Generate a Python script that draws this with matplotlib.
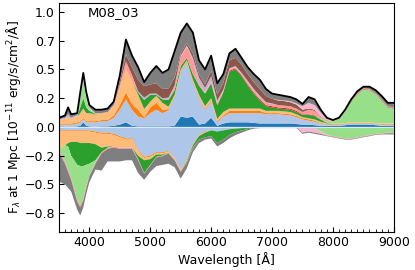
import numpy as np
import matplotlib
matplotlib.use('Agg')
import matplotlib.pyplot as plt
from matplotlib.ticker import MultipleLocator

# wavelength grid [Angstrom]
wl = [3500, 3600, 3650, 3700, 3800, 3850, 3900, 3950, 4000, 4100, 4200, 4300, 4400, 4500,
      4600, 4700, 4800, 4900, 5000, 5100, 5200, 5300, 5400, 5500, 5600, 5700, 5800, 5900,
      6000, 6100, 6200, 6300, 6400, 6500, 6600, 6700, 6800, 6900, 7000, 7100, 7200, 7300,
      7400, 7500, 7600, 7700, 7800, 7900, 8000, 8100, 8200, 8300, 8400, 8500, 8600, 8700,
      8800, 8900, 9000]

# emission contributions (positive side), bottom to top
em_blue = [0, 0, 0, 0, .005, .01, .04, .01, .005, 0, .005, .005, .01, .02,
           .04, .01, .005, .005, .005, .005, .005, .005, .01, .09, .08, .09, .02, .03,
           .08, .01, .03, .04, .04, .04, .04, .035, .03, .03, .03, .03, .03, .03,
           .025, .02, .02, .015, .01, .01, .01, .01, .015, .02, .02, .02, .02, .015,
           .01, .01, .01]
em_lblue = [.02, .02, .02, .02, .025, .03, .03, .03, .035, .04, .045, .045, .07, .13,
            .20, .14, .085, .07, .115, .145, .115, .14, .25, .39, .48, .30, .23, .12,
            .14, .03, .06, .08, .08, .08, .08, .085, .09, .08, .08, .08, .075, .07,
            .06, .045, .035, .03, .02, .01, .01, .01, .01, .01, .01, .01, .01, .01,
            .01, .01, .01]
em_orange = [.01, .01, .01, .01, .01, .01, .01, .01, .01, .01, .01, .01, .02, .04,
             .06, .05, .06, .01, .05, .06, .03, .01, .01, .01, .01, .01, .01, .01,
             .01, .01, .01, .02, .02, .02, .02, .02, .02, .01, .01, .01, .01, .01,
             .01, .01, .01, .01, .005, .005, .005, .005, .005, .005, .005, .005, .005, .005,
             .005, .005, .005]
em_lorange = [.03, .04, .06, .04, .05, .07, .08, .07, .07, .06, .06, .07, .08, .15,
              .20, .20, .13, .07, .05, .06, .06, .02, .01, .01, .01, .01, .02, .02,
              .02, .02, .03, .02, .02, .02, .02, .02, .02, .02, .02, .02, .02, .02,
              .015, .01, .01, .01, .01, .005, .005, .005, .005, .005, .005, .005, .005, .005,
              .005, .005, .005]
em_green = [0, 0, 0, 0, 0, .05, .09, .05, .02, .005, 0, 0, 0, 0,
            0, 0, .02, .08, .06, .01, .03, .06, .04, .03, .02, .05, .08, .11,
            .13, .12, .17, .32, .34, .28, .20, .13, .07, .04, .03, .02, .02, .02,
            .02, .02, .03, .03, .02, .005, 0, 0, 0, 0, 0, 0, 0, 0,
            0, 0, 0]
em_lgreen = [0, 0, 0, 0, .005, .08, .16, .07, .02, 0, 0, 0, 0, 0,
             0, 0, 0, 0, 0, 0, 0, 0, 0, 0, 0, 0, 0, 0,
             0, 0, 0, 0, 0, 0, 0, 0, 0, 0, 0, 0, 0, 0,
             0, 0, 0, 0, .01, .015, .02, .04, .10, .18, .245, .285, .28, .25,
             .20, .14, .13]
em_red = [0, 0, 0, 0, 0, 0, 0, 0, 0, 0, 0, 0, 0, 0,
          0, 0, 0, 0, 0, 0, 0, 0, 0, 0, 0, 0, 0, 0,
          0, 0, .005, .01, .01, .01, .01, .01, .01, .01, .01, .01, .01, .01,
          .01, .005, .005, .005, 0, 0, 0, 0, 0, .005, .005, .005, .005, .005,
          .005, .005, .005]
em_lred = [0, 0, 0, 0, 0, 0, 0, 0, 0, 0, 0, 0, .01, .03,
           .07, .05, 0, 0, 0, 0, 0, 0, .03, .08, .10, .12, .02, .01,
           .02, .02, .01, .01, .01, .01, .02, .02, .02, .02, .02, .02, .02, .02,
           .02, .02, .04, .04, .02, .01, .005, .005, .005, .005, .005, .005, .005, .005,
           .005, .005, .005]
em_lpurple = [.005, .01, .02, .01, .01, .03, .05, .03, .01, .005, 0, 0, 0, 0,
              0, 0, .01, .02, .01, .01, .01, .02, .01, .01, .01, .02, .05, .04,
              .04, .02, .01, .01, .01, .01, .01, .01, .01, .005, .005, 0, 0, 0,
              0, 0, 0, 0, 0, 0, 0, 0, 0, 0, 0, 0, 0, 0,
              0, 0, 0]
em_brown = [0, 0, 0, 0, 0, 0, 0, 0, 0, 0, 0, 0, 0, .03,
            .06, .07, .10, .10, .08, .09, .08, .08, .07, .02, .02, .04, .03, .03,
            .05, .05, .06, .07, .07, .07, .06, .06, .06, .055, .04, .04, .04, .035,
            .035, .02, .01, .01, 0, 0, 0, 0, 0, 0, 0, 0, 0, 0,
            0, 0, 0]
em_lpink = [0, 0, 0, 0, 0, 0, 0, 0, 0, 0, 0, 0, 0, 0,
            0, 0, 0, 0, 0, 0, 0, 0, 0, 0, 0, 0, 0, 0,
            0, 0, 0, 0, 0, 0, 0, 0, 0, 0, 0, .005, .005, .01,
            .01, .03, .05, .04, .03, .01, 0, 0, 0, 0, 0, 0, 0, 0,
            0, 0, 0]
em_gray = [.015, .02, .06, .03, .015, .02, .01, .03, .02, .03, .03, .03, .03, .05,
           .13, .10, .11, .035, .10, .15, .14, .165, .23, .18, .17, .18, .12, .13,
           .13, .10, .075, .06, .08, .06, .06, .07, .08, .06, .045, .045, .04, .035,
           .035, .02, .05, .05, .025, .01, .005, .005, .01, .01, .015, .015, .02, .025,
           .03, .03, .04]

# absorption contributions (negative side), from zero downwards
ab_lblue = [.03, .03, .03, .03, .03, .03, .03, .03, .03, .04, .05, .05, .06, .08,
            .10, .10, .20, .26, .25, .22, .22, .21, .27, .37, .28, .15, .07, .04,
            .03, .04, .03, .02, .015, .01, .01, .005, .005, .005, .005, .005, .005, .005,
            .005, 0, 0, 0, 0, 0, 0, 0, 0, 0, 0, 0, 0, 0,
            0, 0, 0]
ab_orange = [.01, .01, .01, .01, .01, .01, .01, .01, .01, .01, .01, .01, .01, .01,
             .01, .01, .01, .01, .01, .01, .01, .005, .005, .005, .005, .005, .005, .005,
             0, 0, 0, 0, 0, 0, 0, 0, 0, 0, 0, 0, 0, 0,
             0, 0, 0, 0, 0, 0, 0, 0, 0, 0, 0, 0, 0, 0,
             0, 0, 0]
ab_lorange = [.15, .12, .10, .09, .09, .10, .10, .10, .10, .10, .12, .11, .10, .09,
              .07, .07, .04, .02, .02, .01, .01, .01, .01, .01, .01, .005, .005, .005,
              0, 0, 0, 0, 0, 0, 0, 0, 0, 0, 0, 0, 0, 0,
              0, 0, 0, 0, 0, 0, 0, 0, 0, 0, 0, 0, 0, 0,
              0, 0, 0]
ab_green = [0, 0, .03, .12, .20, .20, .20, .19, .18, .14, .04, .01, 0, 0,
            0, 0, .03, .11, .05, .02, .01, 0, 0, 0, .01, .02, .03, .04,
            .05, .10, .08, .05, .03, .02, .01, 0, 0, 0, 0, 0, 0, 0,
            0, 0, 0, 0, 0, 0, 0, 0, 0, 0, 0, 0, 0, 0,
            0, 0, 0]
ab_lgreen = [0, .14, .20, .19, .30, .34, .28, .18, .10, .02, 0, 0, 0, 0,
             0, 0, 0, 0, 0, 0, 0, 0, 0, 0, 0, 0, 0, 0,
             0, 0, 0, 0, 0, 0, 0, 0, 0, 0, 0, 0, 0, 0,
             0, 0, 0, .01, .04, .065, .08, .09, .10, .10, .09, .08, .07, .06,
             .055, .05, .05]
ab_lred = [.02, .02, .02, .02, .02, .02, .02, .02, .01, .01, .01, .01, .01, .01,
           .01, .01, .01, .005, .005, .005, .005, .005, .005, .005, .005, .005, 0, 0,
           0, 0, 0, 0, 0, 0, 0, 0, 0, 0, 0, 0, 0, 0,
           0, 0, 0, 0, 0, .005, .005, .005, .005, .005, .005, .005, .005, .005,
           .005, .005, .005]
ab_lpurple = [.01, 0, 0, 0, 0, 0, 0, 0, 0, 0, 0, 0, 0, 0,
              0, 0, 0, 0, 0, 0, 0, 0, 0, 0, 0, 0, 0, 0,
              0, 0, 0, 0, 0, 0, 0, 0, 0, 0, 0, 0, 0, 0,
              0, 0, 0, 0, 0, 0, 0, 0, 0, 0, 0, 0, 0, 0,
              0, 0, 0]
ab_lpink = [0, 0, 0, 0, 0, 0, 0, 0, 0, 0, 0, 0, 0, 0,
            0, 0, 0, 0, 0, 0, 0, 0, 0, 0, 0, 0, 0, 0,
            0, 0, 0, 0, 0, 0, 0, 0, 0, 0, 0, 0, 0, 0,
            0, .05, .04, .04, .02, .005, 0, 0, 0, 0, 0, 0, 0, 0,
            0, 0, 0]
ab_gray = [.255, .18, .14, .10, .07, .07, .06, .05, .05, .05, .15, .11, .12, .11,
           .10, .10, .11, .055, .055, .075, .075, .09, .06, .06, .05, .035, .03, .02,
           .02, .03, .03, .03, .025, .02, .01, .01, .005, .005, .005, .005, .005, .005,
           .005, .01, .01, .01, .01, .005, .005, .005, .005, .005, .005, .005, .005, .005,
           .005, .01, .01]

em_list = [em_blue, em_lblue, em_orange, em_lorange, em_green, em_lgreen, em_red,
           em_lred, em_lpurple, em_brown, em_lpink, em_gray]
em_colors = ['#1f77b4', '#aec7e8', '#ff7f0e', '#ffbb78', '#2ca02c', '#98df8a', '#d62728',
             '#ff9896', '#c5b0d5', '#8c564b', '#f7b6d2', '#7f7f7f']
ab_list = [ab_lblue, ab_orange, ab_lorange, ab_green, ab_lgreen, ab_lred, ab_lpurple,
           ab_lpink, ab_gray]
ab_colors = ['#aec7e8', '#ff7f0e', '#ffbb78', '#2ca02c', '#98df8a', '#ff9896', '#c5b0d5',
             '#f7b6d2', '#7f7f7f']

yticks = [1.0, 0.75, 0.5, 0.25, 0.0, -0.25, -0.5, -0.75]
ytick_labels = ['1.0', '0.7', '0.5', '0.2', '0.0', '\u22120.2', '\u22120.5', '\u22120.8']

plt.rcParams['font.family'] = 'DejaVu Sans'
fig = plt.figure(figsize=(4.15, 2.7), dpi=100)
ax = fig.add_axes([0.142, 0.141, 0.807, 0.848])

ax.stackplot(wl, *em_list, colors=em_colors, lw=0)
ax.stackplot(wl, *[-np.array(a) for a in ab_list], colors=ab_colors, lw=0)
ax.axhline(0, color='#dbe7f3', lw=0.8)

total = np.sum(np.array(em_list), axis=0)
ax.plot(wl, total, color='black', lw=1.3)

ax.text(0.085, 0.985, 'M08_03', transform=ax.transAxes, va='top', ha='left', fontsize=9.5)

ax.set_xlim(3500, 9000)
ax.set_ylim(-0.913, 1.078)
ax.set_yticks(yticks, ytick_labels)
ax.xaxis.set_minor_locator(MultipleLocator(100))
ax.tick_params(direction='in', labelsize=9, pad=3)
ax.tick_params(which='minor', direction='in', length=2)
ax.set_xlabel('Wavelength [Å]', fontsize=9, labelpad=2)
ax.set_ylabel('F$_\\lambda$ at 1 Mpc [10$^{-11}$ erg/s/cm$^2$/Å]', fontsize=8.8, labelpad=1)

fig.savefig('out.png', dpi=100)
